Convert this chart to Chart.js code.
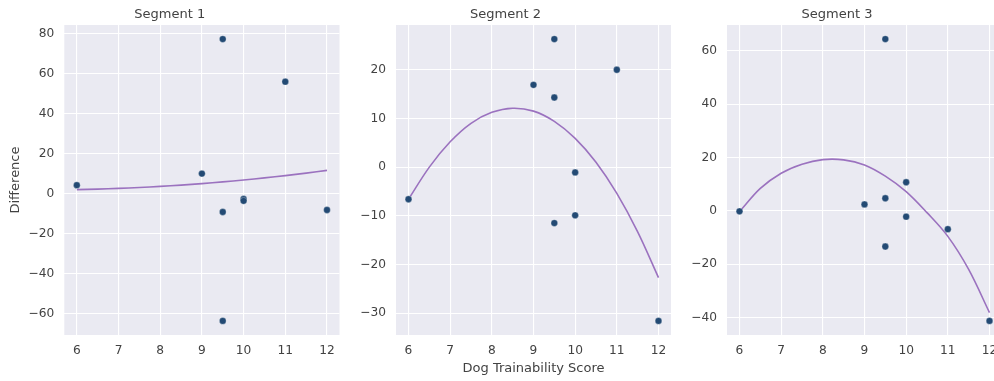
<!DOCTYPE html>
<html>
<head>
<meta charset="utf-8">
<script src="https://cdn.jsdelivr.net/npm/chart.js@4.4.0/dist/chart.umd.min.js"></script>
<style>
  html, body { margin: 0; padding: 0; background: #ffffff; overflow: hidden; width: 994px; height: 381px; }
  .wrap { position: absolute; top: 0; height: 381px; }
  canvas { display: block; }
</style>
</head>
<body>
<div class="wrap" id="w1" style="left:0px;width:340px"><canvas id="c1"></canvas></div>
<div class="wrap" id="w2" style="left:340px;width:332px"><canvas id="c2"></canvas></div>
<div class="wrap" id="w3" style="left:672px;width:340px"><canvas id="c3"></canvas></div>
<script>
// ---------------- DATA ----------------
const titles = ["Segment 1", "Segment 2", "Segment 3"];
const xLabel = "Dog Trainability Score";
const yLabel = "Difference";

// dog trainability scores (same for all segments)
const scores = [6, 9, 9.5, 9.5, 9.5, 10, 10, 11, 12];

// observed differences per segment
const diff1 = [4.2, 10.0, 77.3, -9.2, -63.7, -2.7, -3.6, 56.0, -8.2];
const diff2 = [-6.6, 16.9, 26.3, 14.3, -11.5, -1.1, -9.9, 20.0, -31.6];
const diff3 = [-0.2, 2.4, 64.4, 4.7, -13.4, 10.7, -2.2, -6.9, -41.3];

// fitted trend curves, read at these x positions
const curveX = [6, 6.5, 7, 7.5, 8, 8.5, 9, 9.5, 10, 10.5, 11, 11.5, 12];
const curve1 = [2.0, 2.25, 2.6, 3.05, 3.6, 4.25, 5.0, 5.85, 6.8, 7.85, 9.0, 10.25, 11.6];
const curve2 = [-6.6, 0.0, 5.2, 9.0, 11.25, 12.1, 11.5, 9.4, 5.9, 1.0, -5.4, -13.3, -22.7];
const curve3 = [-0.3, 8.4, 14.1, 17.5, 19.2, 19.1, 17.2, 13.0, 7.2, -0.7, -9.6, -22.0, -38.2];

// tick values
const xTicks = [6, 7, 8, 9, 10, 11, 12];
const yTicks1 = [-60, -40, -20, 0, 20, 40, 60, 80];
const yTicks2 = [-30, -20, -10, 0, 10, 20];
const yTicks3 = [-40, -20, 0, 20, 40, 60];

// ---------------- STYLE ----------------
const BG = "#EAEAF2";
const TEXT = "#424242";
const DOT = "#234a74";
const LINE = "#9b72bf";
const FONT = "'DejaVu Sans', sans-serif";

const bgPlugin = {
  id: 'bg',
  beforeDraw(chart) {
    const a = chart.chartArea, ctx = chart.ctx;
    ctx.save();
    ctx.fillStyle = BG;
    ctx.fillRect(a.left, a.top, a.right - a.left, a.bottom - a.top);
    ctx.restore();
  }
};

function fmt(v) {
  return v < 0 ? '\u2212' + Math.abs(v) : String(v);
}

function yRange(vals) {
  const mn = Math.min(...vals), mx = Math.max(...vals);
  const m = (mx - mn) * 0.05;
  return [mn - m, mx + m];
}

function makeChart(id, w, title, ys, curve, yTicks, yw, pr, showX, showY) {
  const cv = document.getElementById(id);
  cv.width = w; cv.height = 381;
  const [ymin, ymax] = yRange(ys.concat(curve));
  const xmin = Math.min(...scores), xmax = Math.max(...scores);
  const xm = (xmax - xmin) * 0.05;
  new Chart(cv, {
    data: {
      datasets: [
        {
          type: 'line',
          data: curveX.map((x, i) => ({x: x, y: curve[i]})),
          borderColor: LINE,
          borderWidth: 1.6,
          pointRadius: 0,
          tension: 0.35,
          fill: false,
          clip: false,
          order: 2
        },
        {
          type: 'scatter',
          data: scores.map((x, i) => ({x: x, y: ys[i]})),
          backgroundColor: DOT,
          borderColor: 'rgba(255,255,255,0.6)',
          borderWidth: 0.5,
          pointRadius: 3.4,
          clip: false,
          order: 1
        }
      ]
    },
    options: {
      responsive: false,
      animation: false,
      devicePixelRatio: 1,
      layout: { autoPadding: false, padding: { left: 0, right: pr, top: 0, bottom: 0 } },
      plugins: {
        legend: { display: false },
        tooltip: { enabled: false },
        title: {
          display: true,
          text: title,
          color: TEXT,
          font: { family: FONT, size: 13, weight: 'normal' },
          padding: { top: 6.5, bottom: 2.9 }
        }
      },
      scales: {
        x: {
          type: 'linear',
          min: xmin - xm,
          max: xmax + xm,
          afterBuildTicks: s => { s.ticks = xTicks.map(v => ({value: v})); },
          afterFit: s => { s.height = 46; s.paddingLeft = 0; s.paddingRight = 0; },
          grid: { color: '#ffffff', lineWidth: 1.1, drawTicks: false },
          border: { display: false },
          ticks: { color: TEXT, font: { family: FONT, size: 12.2 }, padding: 9, maxRotation: 0, autoSkip: false, callback: v => fmt(v) },
          title: {
            display: showX,
            text: xLabel,
            color: TEXT,
            font: { family: FONT, size: 13 },
            padding: { top: 0, bottom: 4.2 }
          }
        },
        y: {
          type: 'linear',
          min: ymin,
          max: ymax,
          afterBuildTicks: s => { s.ticks = yTicks.map(v => ({value: v})); },
          afterFit: s => { s.width = yw; s.paddingTop = 0; s.paddingBottom = 0; },
          grid: { color: '#ffffff', lineWidth: 1.1, drawTicks: false },
          border: { display: false },
          ticks: { color: TEXT, font: { family: FONT, size: 12.2 }, padding: 10, autoSkip: false, callback: v => fmt(v) },
          title: {
            display: showY,
            text: yLabel,
            color: TEXT,
            font: { family: FONT, size: 13 },
            padding: { top: 8, bottom: 0 }
          }
        }
      }
    },
    plugins: [bgPlugin]
  });
}

makeChart('c1', 340, titles[0], diff1, curve1, yTicks1, 64.3, 0.5, false, true);
makeChart('c2', 332, titles[1], diff2, curve2, yTicks2, 56, 1, true, false);
makeChart('c3', 340, titles[2], diff3, curve3, yTicks3, 55, 10, false, false);
</script>
</body>
</html>
